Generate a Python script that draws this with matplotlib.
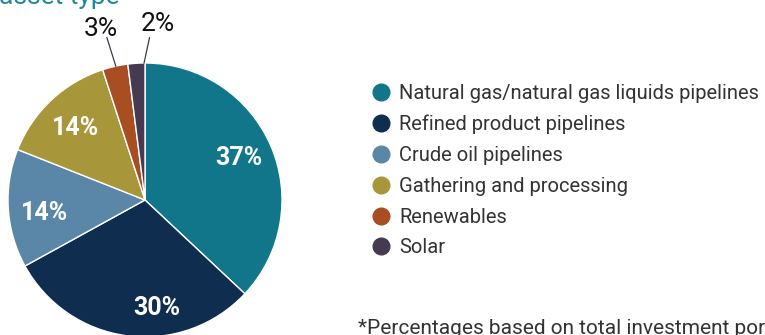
import numpy as np
import matplotlib.pyplot as plt
from matplotlib.lines import Line2D

plt.rcParams['font.family'] = ['Roboto', 'DejaVu Sans']

# Investment mix by asset type (percent)
categories = ['Natural gas/natural gas liquids pipelines', 'Refined product pipelines',
              'Crude oil pipelines', 'Gathering and processing', 'Renewables', 'Solar']
shares = [37, 30, 14, 14, 3, 2]
colors = ['#11768a', '#0f2d4f', '#5a87a8', '#a8963a', '#a84e22', '#463a52']

W, H = 765, 335
fig = plt.figure(figsize=(W / 100, H / 100), dpi=100)

# pie axes placed in pixels: centre (145, 200), radius 137
cx, cy, r = 145, 200, 137
ax = fig.add_axes([(cx - r) / W, (H - cy - r) / H, 2 * r / W, 2 * r / H])
wedges, _ = ax.pie(shares, colors=colors, startangle=90, counterclock=False,
                   radius=1, wedgeprops=dict(edgecolor='white', linewidth=1))
ax.set_xlim(-1, 1)
ax.set_ylim(-1, 1)
ax.set_aspect('auto')
ax.axis('off')

# labels inside the big slices (radius, angle nudge in degrees)
label_r = [0.75, 0.79, 0.74, 0.73]
label_nudge = [1, 13.6, 3.8, 0.6]
for i, w in enumerate(wedges[:4]):
    ang = np.deg2rad((w.theta1 + w.theta2) / 2 + label_nudge[i])
    ax.text(label_r[i] * np.cos(ang), label_r[i] * np.sin(ang), f'{shares[i]}%',
            color='white', fontsize=18, fontweight='bold', ha='center', va='center')

# small slices get outside labels with leader lines
out_dx = [-0.11, 0.10]
out_y = [1.20, 1.235]
line_dx = [-0.065, 0.04]
start_nudge = [0.3, 3.2]
for k, w in enumerate(wedges[4:]):
    i = k + 4
    ang = np.deg2rad((w.theta1 + w.theta2) / 2 - start_nudge[k])
    x0, y0 = np.cos(ang), np.sin(ang)
    ax.plot([x0, x0 + line_dx[k]], [y0, 1.185], color='#333f4f', lw=0.9,
            clip_on=False)
    ax.text(x0 + out_dx[k], out_y[k], f'{shares[i]}%', fontsize=19, ha='center',
            va='baseline', color='#111111', clip_on=False)

# clipped title at the top left
fig.text(120 / W, 1 - 4 / H, 'Investments by asset type', color='#1f88a1', fontsize=19,
         ha='right', va='baseline')

fs = 14.5
handles = [Line2D([], [], marker='o', linestyle='none', markersize=12,
                  markerfacecolor=c, markeredgecolor=c) for c in colors]
fig.legend(handles, categories, loc='upper left', bbox_to_anchor=(370.8 / W, 1 - 84 / H),
           frameon=False, fontsize=fs, labelspacing=0.585, handletextpad=0.4,
           handlelength=1.0, borderaxespad=0, borderpad=0, labelcolor='#333333')

fig.text(358 / W, 1 - 334 / H, '*Percentages based on total investment portfolio',
         fontsize=15, color='#333333', ha='left', va='baseline')

fig.savefig('out.png', dpi=100)
